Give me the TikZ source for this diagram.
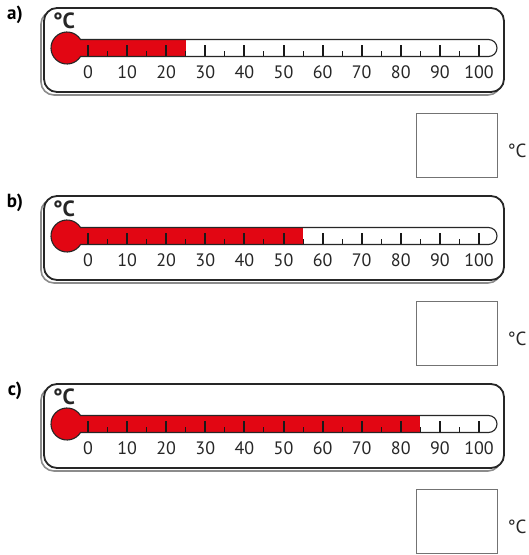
\documentclass[tikz,border=0pt]{standalone}
\usepackage{fontspec}
\setmainfont{PT Sans}
\usepackage{tikz}

\definecolor{thermred}{RGB}{226,6,19}
\tikzset{
  frame/.style={draw=black!85, fill=white, line width=1.8pt, rounded corners=13pt},
  shadowframe/.style={draw=black!45, line width=1.6pt, rounded corners=13pt},
  tube/.style={draw=black!85, line width=1.1pt},
  majortick/.style={line width=2pt, black!90},
  minortick/.style={line width=1pt, black!90},
  scalenum/.style={inner sep=0pt, font=\fontsize{18}{18}\selectfont, black!85},
  answerbox/.style={draw=black!55, line width=1pt},
}

\begin{document}
\begin{tikzpicture}[x=1pt, y=1pt]
\useasboundingbox (0,0) rectangle (529,-555);
\foreach \lab/\val/\off in {a/25/0, b/55/188, c/85/376}{
\begin{scope}[yshift={-\off pt}]
% frame with shadow
\draw[shadowframe] (41,-11) rectangle (501,-95);
\draw[frame] (44,-8) rectangle (504,-92);
\node[inner sep=0pt, font=\fontsize{19}{19}\selectfont\bfseries] (lab-\lab) at (15,-15) {\lab)};
\node[inner sep=0pt, font=\fontsize{22}{22}\selectfont\bfseries, black!85] (deg-\lab) at (64,-21) {°C};
% red column
\fill[thermred] (67,-48) circle (16);
\fill[thermred] (67,-39.5) rectangle ({88+3.91*\val},-56.5);
% scale
\foreach \v in {0,10,...,100}{
  \draw[majortick] ({88+3.91*\v},-56.5) -- ({88+3.91*\v},-45);
  \node[scalenum] (num-\lab-\v) at ({88+3.91*\v},-72) {\v};
}
\foreach \v in {5,15,...,95}
  \draw[minortick] ({88+3.91*\v},-56.5) -- ({88+3.91*\v},-50.5);
\draw[tube] (80.55,-39.5) -- (488.5,-39.5) arc (90:-90:8.5) -- (80.55,-56.5) arc (-32.1:-327.9:16) -- cycle;
% answer box
\draw[answerbox] (416,-113) rectangle (497,-177);
\node[inner sep=0pt, font=\fontsize{19}{19}\selectfont, black!85] (unit-\lab) at (517,-151) {°C};
\end{scope}
}
\end{tikzpicture}
\end{document}
